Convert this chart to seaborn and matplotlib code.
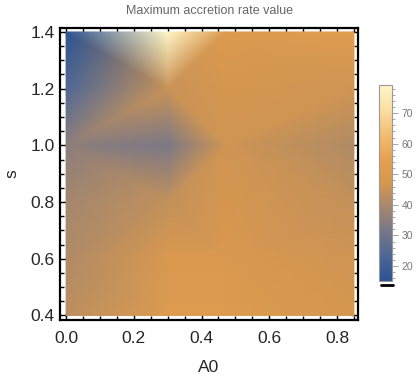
import numpy as np
import seaborn as sns
import matplotlib.pyplot as plt
import matplotlib.tri as mtri
from matplotlib.lines import Line2D
from matplotlib.ticker import MultipleLocator

# grid of sampled parameters
a0_vals = [0.0, 0.3, 0.47, 0.85]
s_vals = [0.4, 0.6, 0.8, 1.0, 1.2, 1.4]

# maximum accretion rate, one row per s value (bottom to top), columns follow a0_vals
rate = [
    [43, 50, 50, 47],   # s = 0.4
    [41, 49, 49, 46],   # s = 0.6
    [39, 44, 47, 44],   # s = 0.8
    [35, 32, 46, 41],   # s = 1.0
    [24, 45, 47, 46],   # s = 1.2
    [15, 79, 50, 52],   # s = 1.4
]

vmin, vmax = 15.1, 79.2

sns.set_style("ticks")
plt.rcParams['font.family'] = ['Liberation Sans', 'DejaVu Sans']

# Mathematica-like density gradient
cmap = sns.blend_palette(["#2c5391", "#4c6696", "#767689", "#a5876d", "#d6974f",
                          "#e6a150", "#f2bd73", "#fbdfa2", "#fff6c8"], as_cmap=True)

# alternating diagonals, like the mesh of a list density plot
nx, ny = len(a0_vals), len(s_vals)
triangles = []
for j in range(ny - 1):
    for i in range(nx - 1):
        bl, br = j * nx + i, j * nx + i + 1
        tl, tr = bl + nx, br + nx
        if (i + j) % 2 == 0:
            triangles += [[tl, bl, br], [tl, br, tr]]
        else:
            triangles += [[bl, br, tr], [bl, tr, tl]]

A, S = np.meshgrid(a0_vals, s_vals)
z = np.array(rate, dtype=float)
tri = mtri.Triangulation(A.ravel(), S.ravel(), triangles)

fig = plt.figure(figsize=(4.17, 3.84), dpi=100)
ax = fig.add_axes([60 / 417, 1 - 320 / 384, 298 / 417, 292 / 384])
tpc = ax.tripcolor(tri, z.ravel(), shading='gouraud', cmap=cmap, vmin=vmin, vmax=vmax)

ax.set_xlim(-0.018, 0.862)
ax.set_ylim(0.384, 1.414)
ax.xaxis.set_major_locator(MultipleLocator(0.2))
ax.xaxis.set_minor_locator(MultipleLocator(0.05))
ax.yaxis.set_major_locator(MultipleLocator(0.2))
ax.yaxis.set_minor_locator(MultipleLocator(0.05))
ax.tick_params(which='both', direction='in', top=True, right=True, width=1.0, color='black')
ax.tick_params(which='major', length=5, labelsize=12.5)
ax.tick_params(which='minor', length=3)
ax.tick_params(axis='x', pad=8)
ax.tick_params(axis='y', pad=4)
for sp in ax.spines.values():
    sp.set_linewidth(1.6)
    sp.set_color('black')

ax.set_xlabel("A0", fontsize=12.5, labelpad=10)
ax.set_ylabel("s", fontsize=12.5, labelpad=8)
fig.text(209 / 417, 1 - 11 / 384, "Maximum accretion rate value", ha='center', va='center',
         fontsize=9, color='#666666')

# colour legend
cax = fig.add_axes([379 / 417, 1 - 281 / 384, 13 / 417, 196 / 384])
cb = fig.colorbar(tpc, cax=cax)
cb.set_ticks([20, 30, 40, 50, 60, 70])
cb.ax.yaxis.set_minor_locator(MultipleLocator(2))
cb.ax.tick_params(which='both', colors='#999999', labelcolor='#777777', width=0.6, direction='out')
cb.ax.tick_params(which='major', length=4, labelsize=7.5, pad=3)
cb.ax.tick_params(which='minor', length=2)
cb.outline.set_edgecolor('#999999')
cb.outline.set_linewidth(0.8)

fig.add_artist(Line2D([381 / 417, 393 / 417], [1 - 285 / 384] * 2, color='black', lw=2))

fig.savefig("out.png", dpi=100)
